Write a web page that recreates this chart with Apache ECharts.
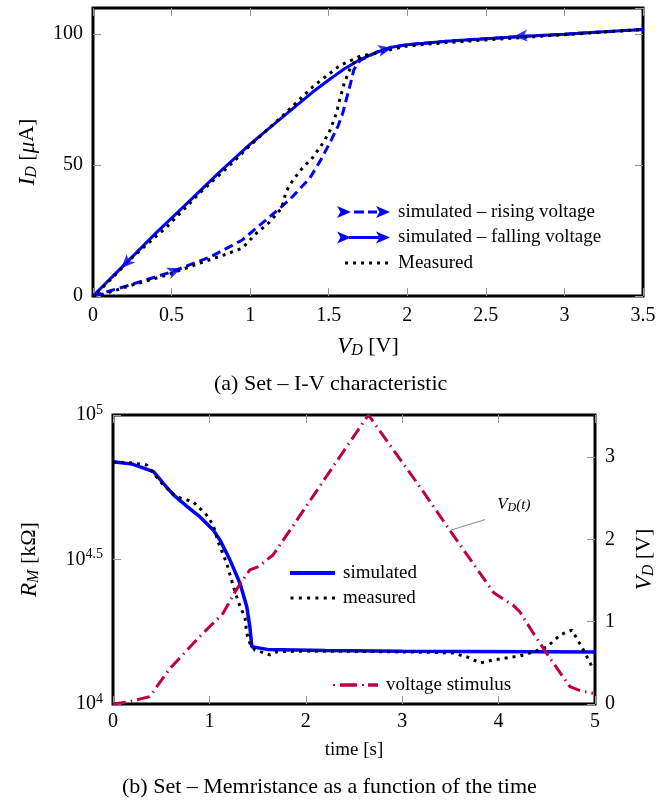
<!DOCTYPE html>
<html>
<head>
<meta charset="utf-8">
<script src="https://cdn.jsdelivr.net/npm/echarts@6/dist/echarts.min.js"></script>
<style>
html,body{margin:0;padding:0;background:#fff;}
#main{width:666px;height:808px;}
</style>
</head>
<body>
<div id="main"></div>
<script>
// (a) I-V characteristic
var ivRiseV=[0,0.1,0.25,0.5,0.75,0.95,1.1,1.25,1.38,1.45,1.52,1.56,1.59,1.64,1.66,1.7,1.8,1.9,2.0,2.25,2.5,2.75,3.0,3.25,3.5];
var ivRiseI=[0,1.8,4.5,9.2,15,21.4,29,36.7,45,52,60,65,70,81.5,86.5,90,93,95,96,97.3,98.3,99.2,100,100.9,101.8];
var ivFallV=[0,0.2,0.4,0.6,0.8,1.0,1.2,1.4,1.5,1.6,1.7,1.8,1.9,2.0,2.25,2.5,2.75,3.0,3.25,3.5];
var ivFallI=[0,12,24,35.5,47,58,68,78,82.5,86.8,90.3,93,95,96,97.3,98.3,99.2,100,100.9,101.8];
var ivMeasRiseV=[0,0.05,0.25,0.47,0.68,0.85,0.95,1.04,1.12,1.2,1.23,1.27,1.32,1.4,1.47,1.51,1.55,1.57,1.6,1.64,1.68,1.75,1.85,2.0,2.25,2.5,2.75,3.0,3.25,3.5];
var ivMeasRiseI=[0,0.4,4.2,8,12.6,16,18.3,24,28,33.5,40,44,48,53,59,63.5,70,75,81.5,87.5,90.3,92,93.5,95.5,96.8,97.8,98.8,99.8,100.8,101.8];
var ivMeasFallV=[1.75,1.7,1.57,1.4,1.21,1.0,0.89,0.68,0.47,0.255,0.108,0.03,0];
var ivMeasFallI=[92.2,91.6,88,80,69,57.5,51,39.4,26.4,15,6,1.5,0];
// arrow heads: where they sit and a point further along the sweep
var arrowAt=[[0.21,12.5],[0.52,9.6],[1.86,94.2],[2.72,99.3]];
var arrowToward=[[0,0],[0.75,15],[2.0,96],[2.5,98.3]];

// (b) memristance vs time
var tSim=[0,0.2,0.42,0.52,0.63,0.77,0.9,1.04,1.11,1.214,1.317,1.387,1.42,1.44,1.6,2.2,3.0,5.0];
var rSim=[68860,67610,63680,58080,52840,48190,44460,39990,36900,31480,26180,21730,18490,15780,15450,15310,15210,15140];
var tMeas=[0,0.2,0.35,0.52,0.66,0.83,0.97,1.04,1.09,1.18,1.245,1.30,1.37,1.387,1.42,1.47,1.63,1.7,2.0,2.5,3.0,3.3,3.53,3.67,3.81,3.94,4.22,4.36,4.5,4.64,4.76,4.88,4.97];
var rMeas=[68710,68230,67140,57280,52120,50120,45080,41590,36390,30690,25700,22540,19860,17580,16220,15380,14790,15170,15240,15210,15140,15100,15000,14550,13870,14190,14660,15140,15740,17340,18030,15380,13430];
var tVolt=[0,0.18,0.38,0.59,0.9,1.14,1.28,1.42,1.51,1.66,1.9,2.2,2.45,2.65,2.9,3.2,3.5,3.62,3.95,4.08,4.15,4.22,4.36,4.53,4.74,4.85,4.98];
var vVolt=[0,0.03,0.09,0.43,0.82,1.10,1.39,1.63,1.67,1.81,2.22,2.74,3.17,3.51,3.10,2.61,2.10,1.90,1.35,1.25,1.20,1.12,0.86,0.56,0.21,0.16,0.13];

var FONT="'Liberation Serif','Times New Roman',serif";
var BLUE="#0000ff";
var CRIMSON="#bf0040";

function pairs(xs,ys){
	var out=[];
	for(var i=0;i<xs.length;i++){
		out.push([xs[i],ys[i]]);
	}
	return out;
}
function rect(x0,y0,x1,y1){
	return "M"+x0+","+y0+" L"+x1+","+y0+" L"+x1+","+y1+" L"+x0+","+y1+" Z ";
}
function head(x){
	return "M"+x+",1 L"+(x+14)+",7 L"+x+",13 L"+(x+3.5)+",7 Z ";
}
function corners(w,h){
	return "M0,0 L0.01,0 L0,0.01 Z M"+w+","+h+" L"+(w-0.01)+","+h+" L"+w+","+(h-0.01)+" Z";
}
function dots(x0,step,n){
	var s="";
	for(var i=0;i<n;i++){
		s+=rect(x0+i*step,5.5,x0+i*step+3,8.5);
	}
	return s;
}
var mathRich={
	i:{fontFamily:FONT,fontStyle:"italic",fontSize:23,color:"#000"},
	sub:{fontFamily:FONT,fontStyle:"italic",fontSize:16,color:"#000",padding:[9,0,0,0]},
	sup:{fontFamily:FONT,fontSize:14,color:"#000",padding:[0,0,10,0]}
};
function axis(gridIndex,position,min,max,step,showLabel){
	return {
		type:"value",gridIndex:gridIndex,position:position,min:min,max:max,interval:step,
		axisLine:{show:false,onZero:false},
		axisTick:{show:true,inside:true,length:8,lineStyle:{color:"#999",width:1}},
		axisLabel:{show:showLabel,color:"#000",fontFamily:FONT,fontSize:20,margin:10,rich:mathRich},
		splitLine:{show:false},
		nameTextStyle:{fontFamily:FONT,fontSize:22,color:"#000",rich:mathRich}
	};
}

var xA=axis(0,"bottom",0,3.5,0.5,true);
xA.name="{i|V}{sub|D} [V]";xA.nameLocation="middle";xA.nameGap=38;
var xAtop=axis(0,"top",0,3.5,0.5,false);
var yA=axis(0,"left",0,110,50,true);
yA.axisLabel.showMaxLabel=false;
yA.name="{i|I}{sub|D} [{i|μ}A]";yA.nameLocation="middle";yA.nameGap=53;
var yAright=axis(0,"right",0,110,50,false);

var xB=axis(1,"bottom",0,5,1,true);
xB.name="time [s]";xB.nameLocation="middle";xB.nameGap=37;xB.axisLabel.margin=8;
xB.nameTextStyle.fontSize=19;
var xBtop=axis(1,"top",0,5,1,false);
var yB=axis(1,"left",10000,100000,0.5,true);
yB.type="log";yB.logBase=10;
yB.axisLabel.formatter=function(v){
	var e=Math.round(Math.log(v)/Math.LN10*10)/10;
	return "10{sup|"+e+"}";
};
yB.name="{i|R}{sub|M} [kΩ]";yB.nameLocation="middle";yB.nameGap=71;
var yBright=axis(1,"right",0,3.51,1,true);
yBright.axisLabel.showMaxLabel=false;
yBright.name="{i|V}{sub|D} [V]";yBright.nameLocation="middle";yBright.nameGap=37;yBright.nameRotate=90;

var dotted={color:"#000",width:3,type:[3,5],cap:"butt"};

var option={
	animation:false,
	backgroundColor:"#fff",
	textStyle:{fontFamily:FONT},
	grid:[
		{left:93,top:8,width:550,height:288,show:true,borderColor:"#000",borderWidth:3,backgroundColor:"transparent",outerBoundsMode:"none"},
		{left:113,top:415,width:482,height:289,show:true,borderColor:"#000",borderWidth:3,backgroundColor:"transparent",outerBoundsMode:"none"}
	],
	xAxis:[xA,xAtop,xB,xBtop],
	yAxis:[yA,yAright,yB,yBright],
	legend:[{
		left:337,top:202,orient:"vertical",itemWidth:56,itemHeight:14,itemGap:5.5,padding:0,selectedMode:false,
		textStyle:{fontFamily:FONT,fontSize:19,color:"#000",lineHeight:20},
		data:[
			{name:"simulated – rising voltage",icon:"path://"+head(0)+rect(17,5.5,27,8.5)+rect(31,5.5,40,8.5)+head(39)+corners(56,14),itemStyle:{color:BLUE,borderWidth:0}},
			{name:"simulated – falling voltage",icon:"path://"+head(0)+rect(12,5.5,42,8.5)+head(39)+corners(56,14),itemStyle:{color:BLUE,borderWidth:0}},
			{name:"Measured",icon:"path://"+dots(8,8,6)+corners(56,14),itemStyle:{color:"#000",borderWidth:0}}
		]
	},{
		left:290,top:563,orient:"vertical",itemWidth:48,itemHeight:14,itemGap:5,padding:0,selectedMode:false,
		textStyle:{fontFamily:FONT,fontSize:19,color:"#000",lineHeight:20},
		data:[
			{name:"simulated",icon:"path://"+rect(0,5,45,9)+corners(48,14),itemStyle:{color:BLUE,borderWidth:0}},
			{name:"measured",icon:"path://"+dots(0.5,8.3,6)+corners(48,14),itemStyle:{color:"#000",borderWidth:0}}
		]
	},{
		left:333,top:675,orient:"vertical",itemWidth:48,itemHeight:14,padding:0,selectedMode:false,
		textStyle:{fontFamily:FONT,fontSize:19,color:"#000",lineHeight:20},
		data:[
			{name:"voltage stimulus",icon:"path://"+rect(0,6,2,8)+rect(7,5.25,24,8.75)+rect(29,6,31,8)+rect(35,5.25,45,8.75)+corners(48,14),itemStyle:{color:CRIMSON,borderWidth:0}}
		]
	}],
	graphic:[
		{type:"text",left:214,top:373,style:{text:"(a) Set – I-V characteristic",fontFamily:FONT,fontSize:22,fill:"#000"}},
		{type:"text",left:122,top:776,style:{text:"(b) Set – Memristance as a function of the time",fontFamily:FONT,fontSize:22,fill:"#000"}}
	],
	series:[
		{name:"simulated – rising voltage",type:"line",xAxisIndex:0,yAxisIndex:0,showSymbol:false,
			data:pairs(ivRiseV,ivRiseI),itemStyle:{color:BLUE},lineStyle:{color:BLUE,width:3,type:[9,5]},z:2},
		{name:"simulated – falling voltage",type:"line",xAxisIndex:0,yAxisIndex:0,showSymbol:false,
			data:pairs(ivFallV,ivFallI),itemStyle:{color:BLUE},lineStyle:{color:BLUE,width:3},z:2},
		{name:"Measured",type:"line",xAxisIndex:0,yAxisIndex:0,showSymbol:false,
			data:pairs(ivMeasRiseV,ivMeasRiseI),itemStyle:{color:"#000"},lineStyle:dotted,z:3},
		{name:"Measured",type:"line",xAxisIndex:0,yAxisIndex:0,showSymbol:false,
			data:pairs(ivMeasFallV,ivMeasFallI),itemStyle:{color:"#000"},lineStyle:dotted,z:3},
		{id:"arrows",name:"arrows",type:"scatter",xAxisIndex:0,yAxisIndex:0,
			symbol:"path://M6,0 L12,14 L6,10.5 L0,14 Z",symbolSize:[12,14],
			itemStyle:{color:BLUE},data:[],z:4,silent:true},
		{name:"simulated",type:"line",xAxisIndex:2,yAxisIndex:2,showSymbol:false,
			data:pairs(tSim,rSim),itemStyle:{color:BLUE},lineStyle:{color:BLUE,width:3.5},z:2},
		{name:"measured",type:"line",xAxisIndex:2,yAxisIndex:2,showSymbol:false,
			data:pairs(tMeas,rMeas),itemStyle:{color:"#000"},lineStyle:dotted,z:3},
		{name:"voltage stimulus",type:"line",xAxisIndex:2,yAxisIndex:3,showSymbol:false,
			data:pairs(tVolt,vVolt),itemStyle:{color:CRIMSON},lineStyle:{color:CRIMSON,width:3,type:[13,5,1.5,5]},z:4,
			markLine:{silent:true,symbol:["none","none"],label:{show:false},
				lineStyle:{color:"#888",width:1,type:"solid"},
				data:[[{coord:[3.5,2.11]},{coord:[3.86,2.24]}]]},
			markPoint:{silent:true,symbol:"circle",symbolSize:1,itemStyle:{color:"rgba(0,0,0,0)"},
				label:{show:true,position:"right",distance:0,color:"#000",
					formatter:"{v|V}{d|D}{n|(t)}",
					rich:{
						v:{fontFamily:FONT,fontStyle:"italic",fontSize:17,color:"#000"},
						d:{fontFamily:FONT,fontStyle:"italic",fontSize:12,color:"#000",padding:[7,0,0,0]},
						n:{fontFamily:FONT,fontStyle:"italic",fontSize:15,color:"#000"}
					}},
				data:[{coord:[3.98,2.42]}]}}
	]
};

var chart=echarts.init(document.getElementById("main"),null,{renderer:"canvas"});
chart.setOption(option);
// turn each arrow head along its sweep direction, in pixel space
var arrowData=[];
for(var i=0;i<arrowAt.length;i++){
	var p=chart.convertToPixel({seriesIndex:0},arrowAt[i]);
	var q=chart.convertToPixel({seriesIndex:0},arrowToward[i]);
	var deg=Math.atan2(p[1]-q[1],q[0]-p[0])*180/Math.PI;
	arrowData.push({value:arrowAt[i],symbolRotate:deg-90});
}
chart.setOption({series:[{id:"arrows",data:arrowData}]});
</script>
</body>
</html>
